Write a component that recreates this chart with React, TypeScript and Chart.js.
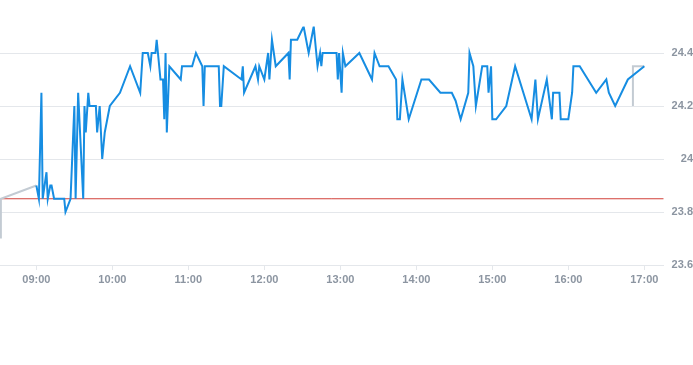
import React, { useEffect, useRef } from "react";
import { Chart, registerables } from "chart.js";

Chart.register(...registerables);

// ---- data ----
const blueTimes = [
  "09:00", "09:02", "09:04", "09:05", "09:08", "09:09", "09:11", "09:12", "09:14", "09:22",
  "09:23", "09:27", "09:30", "09:31", "09:33", "09:37", "09:38", "09:39", "09:41", "09:42",
  "09:47", "09:48", "09:50", "09:52", "09:54", "09:58", "10:06", "10:14", "10:22", "10:24",
  "10:28", "10:30", "10:31", "10:34", "10:35", "10:38", "10:40", "10:41", "10:42", "10:43",
  "10:45", "10:54", "10:55", "11:03", "11:06", "11:11", "11:12", "11:13", "11:24", "11:25",
  "11:26", "11:28", "11:42", "11:43", "11:44", "11:53", "11:55", "11:56", "12:00", "12:03",
  "12:04", "12:06", "12:09", "12:19", "12:20", "12:21", "12:26", "12:31", "12:35", "12:39",
  "12:42", "12:44", "12:45", "12:46", "12:57", "12:58", "12:59", "13:01", "13:02", "13:04",
  "13:15", "13:25", "13:27", "13:31", "13:38", "13:44", "13:45", "13:47", "13:49", "13:54",
  "14:04", "14:10", "14:19", "14:28", "14:31", "14:35", "14:41", "14:42", "14:45", "14:47",
  "14:52", "14:56", "14:57", "14:59", "15:00", "15:03", "15:11", "15:18", "15:31", "15:34",
  "15:36", "15:43", "15:47", "15:48", "15:53", "15:54", "16:00", "16:03", "16:04", "16:09",
  "16:22", "16:30", "16:32", "16:37", "16:47", "17:00",
];
const blueValues = [
  23.9, 23.85, 24.25, 23.85, 23.95, 23.85, 23.9, 23.9, 23.85, 23.85,
  23.8, 23.85, 24.2, 23.85, 24.25, 23.85, 24.2, 24.1, 24.25, 24.2,
  24.2, 24.1, 24.2, 24.0, 24.1, 24.2, 24.25, 24.35, 24.25, 24.4,
  24.4, 24.35, 24.4, 24.4, 24.45, 24.3, 24.3, 24.15, 24.4, 24.1,
  24.35, 24.3, 24.35, 24.35, 24.4, 24.35, 24.2, 24.35, 24.35, 24.2,
  24.2, 24.35, 24.3, 24.35, 24.25, 24.35, 24.3, 24.35, 24.3, 24.4,
  24.3, 24.45, 24.35, 24.4, 24.3, 24.45, 24.45, 24.5, 24.4, 24.5,
  24.35, 24.4, 24.35, 24.4, 24.4, 24.3, 24.4, 24.25, 24.4, 24.35,
  24.4, 24.3, 24.4, 24.35, 24.35, 24.3, 24.15, 24.15, 24.3, 24.15,
  24.3, 24.3, 24.25, 24.25, 24.22, 24.15, 24.25, 24.4, 24.35, 24.2,
  24.35, 24.35, 24.25, 24.35, 24.15, 24.15, 24.2, 24.35, 24.15, 24.3,
  24.15, 24.3, 24.15, 24.25, 24.25, 24.15, 24.15, 24.25, 24.35, 24.35,
  24.25, 24.3, 24.25, 24.2, 24.3, 24.35,
];
const preTimes = ["08:32", "08:32", "09:00"];
const preValues = [23.7, 23.85, 23.9];
const postTimes = ["16:51", "16:51", "17:00"];
const postValues = [24.2, 24.35, 24.35];
const previousClose = 23.85;

const xTickLabels = ["09:00", "10:00", "11:00", "12:00", "13:00", "14:00", "15:00", "16:00", "17:00"];
const yTickValues = [23.6, 23.8, 24, 24.2, 24.4];
const axisStart = "08:31";
const axisEnd = "17:15";

// ---- helpers ----
const toMin = (s: string) => {
  const [h, m] = s.split(":").map(Number);
  return h * 60 + m;
};
const fmtTime = (v: number) => {
  const h = Math.floor(v / 60);
  const m = Math.round(v - h * 60);
  return `${String(h).padStart(2, "0")}:${String(m).padStart(2, "0")}`;
};
const pts = (t: string[], v: number[]) => t.map((s, i) => ({ x: toMin(s), y: v[i] }));

const labelColor = "#8c95a1";
const gridColor = "#e4e7eb";
const fontFamily = "'Liberation Sans', Arial, Helvetica, sans-serif";

export default function App() {
  const ref = useRef<HTMLCanvasElement | null>(null);

  useEffect(() => {
    if (!ref.current) return;
    const xMin = toMin(axisStart) + 0.3;
    const xMax = toMin(axisEnd) + 0.3;
    const chart = new Chart(ref.current, {
      type: "line",
      data: {
        datasets: [
          {
            data: pts(blueTimes, blueValues),
            borderColor: "#168de2",
            borderWidth: 2,
            pointRadius: 0,
            tension: 0,
            fill: false,
          },
          {
            data: pts(preTimes, preValues),
            borderColor: "#c3cbd3",
            borderWidth: 2,
            pointRadius: 0,
            tension: 0,
            fill: false,
          },
          {
            data: pts(postTimes, postValues),
            borderColor: "#c3cbd3",
            borderWidth: 2,
            pointRadius: 0,
            tension: 0,
            fill: false,
          },
          {
            data: [
              { x: xMin, y: previousClose },
              { x: xMax, y: previousClose },
            ],
            borderColor: "#d2403a",
            borderWidth: 1,
            pointRadius: 0,
            tension: 0,
            fill: false,
          },
        ],
      },
      options: {
        animation: false,
        responsive: false,
        maintainAspectRatio: false,
        layout: { padding: { top: 26.5, bottom: 70, left: 0, right: 0 } },
        plugins: { legend: { display: false }, tooltip: { enabled: false } },
        scales: {
          x: {
            type: "linear",
            position: "bottom",
            min: xMin,
            max: xMax,
            afterBuildTicks: (s: any) => {
              s.ticks = xTickLabels.map((t) => ({ value: toMin(t) }));
            },
            afterFit: (s: any) => {
              s.height = 30;
            },
            ticks: {
              callback: (v: any) => fmtTime(Number(v)),
              color: labelColor,
              font: { family: fontFamily, size: 11, weight: "bold" },
              padding: 3,
              maxRotation: 0,
              autoSkip: false,
            },
            grid: { drawOnChartArea: false, tickLength: 5, color: gridColor },
            border: { display: true, color: gridColor },
          },
          y: {
            position: "right",
            min: 23.6,
            max: 24.5,
            afterBuildTicks: (s: any) => {
              s.ticks = yTickValues.map((v) => ({ value: v }));
            },
            afterFit: (s: any) => {
              s.width = 29.3;
            },
            ticks: {
              callback: (v: any) => String(Math.round(Number(v) * 10) / 10),
              color: labelColor,
              font: { family: fontFamily, size: 11, weight: "bold" },
              crossAlign: "far",
              padding: 0,
            },
            grid: { color: gridColor, drawTicks: false },
            border: { display: false },
          },
        },
      },
    } as any);
    return () => chart.destroy();
  }, []);

  return (
    <div style={{ position: "absolute", left: 0, top: 0, width: 693, height: 365, overflow: "hidden", background: "#fff" }}>
      <canvas ref={ref} width={693} height={365} style={{ display: "block", width: 693, height: 365 }} />
    </div>
  );
}
